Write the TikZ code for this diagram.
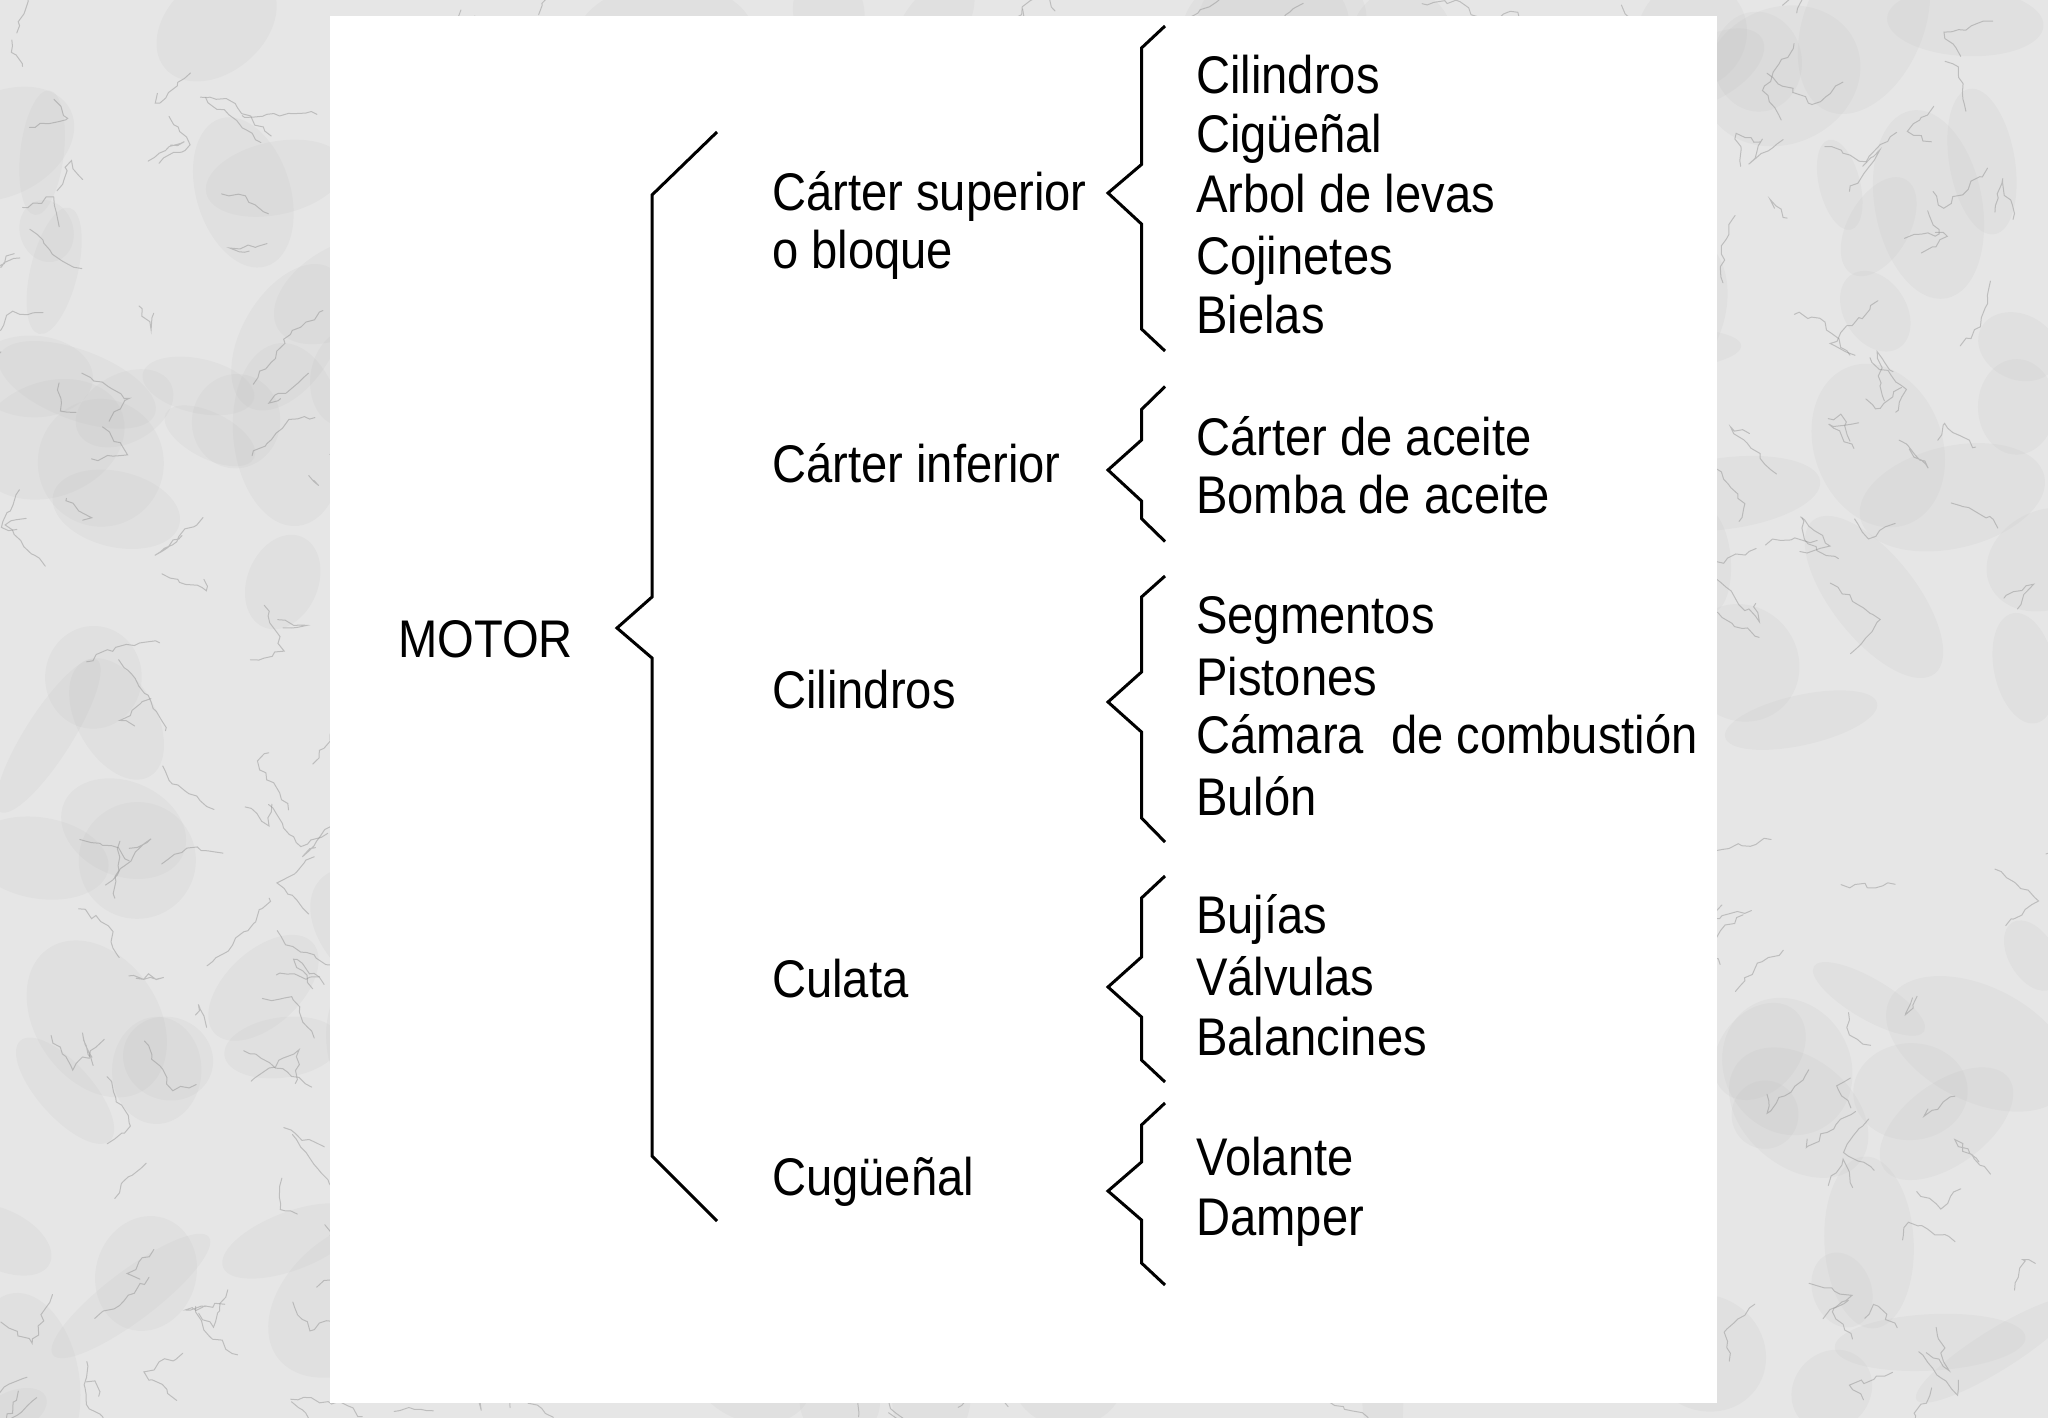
\documentclass[tikz,border=0pt]{standalone}
\usepackage{fontspec}
\setmainfont{Liberation Sans}[FakeStretch=0.89]
\usetikzlibrary{decorations.pathmorphing}
\definecolor{marble}{HTML}{E6E6E6}
\definecolor{veincol}{HTML}{8C8C8C}
\definecolor{mottle}{HTML}{B8B8B8}
\begin{document}
\begin{tikzpicture}[x=1pt,y=-1pt,
  lbl/.style={anchor=base west, inner sep=0pt, font=\fontsize{53}{60}\selectfont},
  brc/.style={draw=black, line width=3pt, line join=miter},
  blotch/.style={fill=mottle, opacity=0.12},
  vein/.style={draw=veincol, line width=1pt, opacity=0.45, line cap=round,
    decorate, decoration={random steps, segment length=7pt, amplitude=3pt}}]
\useasboundingbox (0,0) rectangle (2048,1418);
% marble background
\begin{scope}
\clip (0,0) rectangle (2048,1418);
\fill[marble] (0,0) rectangle (2048,1418);
\pgfmathsetseed{11}
\foreach \i in {1,...,220}{
  \pgfmathsetmacro{\bx}{rnd*2048}
  \pgfmathsetmacro{\by}{rnd*1418}
  \pgfmathsetmacro{\rx}{30+rnd*70}
  \pgfmathsetmacro{\ry}{20+rnd*50}
  \pgfmathsetmacro{\rot}{rnd*180}
  \fill[blotch, rotate around={\rot:(\bx,\by)}] (\bx,\by) ellipse [x radius=\rx, y radius=\ry];
}
\foreach \i in {1,...,380}{
  \pgfmathsetmacro{\vx}{rnd*2048}
  \pgfmathsetmacro{\vy}{rnd*1418}
  \pgfmathsetmacro{\dx}{rnd*100-50}
  \pgfmathsetmacro{\dy}{rnd*100-50}
  \pgfmathsetmacro{\ex}{rnd*70-35}
  \pgfmathsetmacro{\ey}{rnd*70-35}
  \draw[vein] (\vx,\vy) -- ++(\dx,\dy) -- ++(\ex,\ey);
}
\end{scope}
% white panel
\fill[white] (330,16) rectangle (1717,1403);

% root
\node[lbl] (motor) at (398,657) {MOTOR};

% level 2
\node[lbl] (c1) at (772,210) {Cárter superior};
\node[lbl] (c1b) at (772,268) {o bloque};
\node[lbl] (c2) at (772,482) {Cárter inferior};
\node[lbl] (c3) at (772,708) {Cilindros};
\node[lbl] (c4) at (772,997) {Culata};
\node[lbl] (c5) at (772,1195) {Cugüeñal};

% items
\node[lbl] (a1) at (1196,94) {Cilindros};
\node[lbl] (a2) at (1196,153) {Cigüeñal};
\node[lbl] (a3) at (1196,212) {Arbol de levas};
\node[lbl] (a4) at (1196,274) {Cojinetes};
\node[lbl] (a5) at (1196,333) {Bielas};

\node[lbl] (b1) at (1196,455) {Cárter de aceite};
\node[lbl] (b2) at (1196,513) {Bomba de aceite};

\node[lbl] (d1) at (1196,633) {Segmentos};
\node[lbl] (d2) at (1196,695) {Pistones};
\node[lbl] (d3) at (1196,753) {Cámara\hspace{14pt} de combustión};
\node[lbl] (d4) at (1196,815) {Bulón};

\node[lbl] (e1) at (1196,933) {Bujías};
\node[lbl] (e2) at (1196,995) {Válvulas};
\node[lbl] (e3) at (1196,1055) {Balancines};

\node[lbl] (f1) at (1196,1175) {Volante};
\node[lbl] (f2) at (1196,1235) {Damper};

% big brace
\draw[brc] (717,132) -- (652,195) -- (652,597) -- (617,628) -- (652,658) -- (652,1156) -- (717,1221);

% small braces
\draw[brc] (1165,26) -- (1141.5,48) -- (1141.5,164.5) -- (1108,193) -- (1141.5,224) -- (1141.5,329) -- (1165,351);
\draw[brc] (1165,386.5) -- (1141.5,409.5) -- (1141.5,440) -- (1108,470) -- (1141.5,501) -- (1141.5,518.6) -- (1165,541.5);
\draw[brc] (1165,576) -- (1141.5,597) -- (1141.5,672) -- (1108,702) -- (1141.5,732) -- (1141.5,818) -- (1165,842);
\draw[brc] (1165,876) -- (1141.5,898) -- (1141.5,957) -- (1108,987) -- (1141.5,1017) -- (1141.5,1060) -- (1165,1082);
\draw[brc] (1165,1103) -- (1141.5,1125) -- (1141.5,1162) -- (1108,1191) -- (1141.5,1220) -- (1141.5,1263) -- (1165,1285);
\end{tikzpicture}
\end{document}
